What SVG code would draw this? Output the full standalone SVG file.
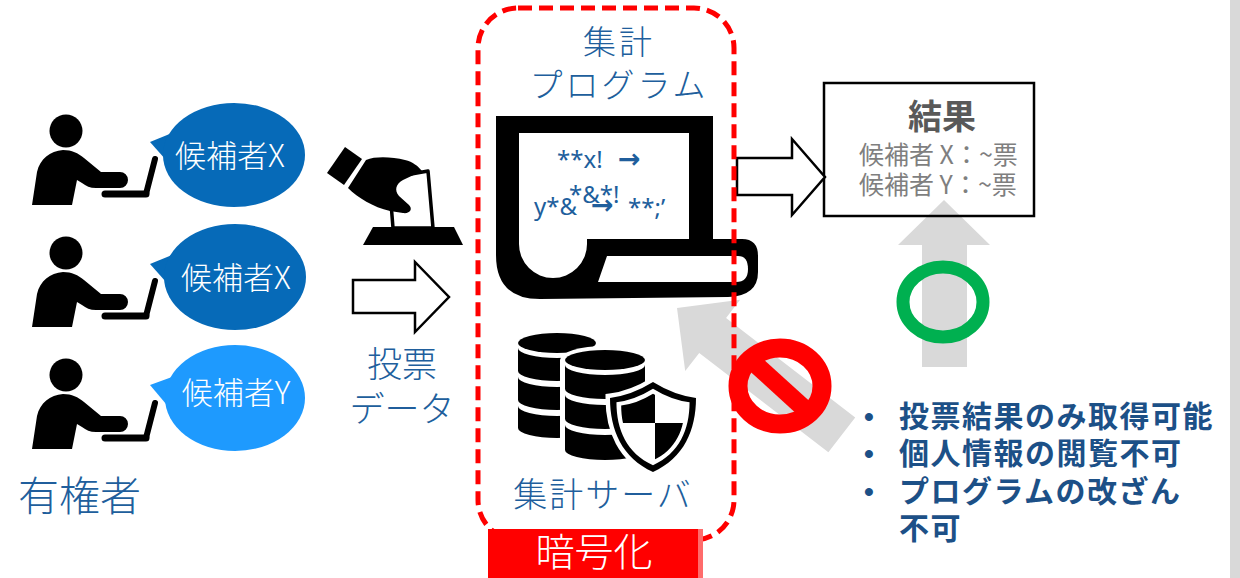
<svg xmlns="http://www.w3.org/2000/svg" xmlns:xlink="http://www.w3.org/1999/xlink" width="1240" height="578" viewBox="0 0 1240 578">
  <defs>
    <style>
      .jp { font-family: "Noto Sans CJK JP", "Noto Sans", sans-serif; }
      .lbl { fill: #205E9C; font-weight: 300; }
      .bubble-text { fill: #FFFFFF; font-size: 31px; font-weight: 300; text-anchor: middle; }
      .code { font-family: "Noto Sans", "DejaVu Sans", sans-serif; fill: #205E9C; font-size: 24px; }
      .code-arrow { font-family: "DejaVu Sans", sans-serif; fill: #205E9C; font-size: 27px; font-weight: bold; }
      .hollow { fill: #FFFFFF; stroke: #000000; stroke-width: 2.5; stroke-linejoin: miter; }
      .gray-arrow { fill: #D9D9D9; }
      .result-line { fill: #7F7F7F; font-size: 25px; }
      .bullet { fill: #1C5087; font-size: 30px; font-weight: bold; letter-spacing: 1.5px; }
      .dot { font-family: "Liberation Sans", sans-serif; fill: #1C5087; font-size: 28px; font-weight: bold; }
    </style>
    <!-- person at a laptop, head centred at (66,131) -->
    <g id="person">
      <circle cx="66" cy="131" r="16.5" fill="#000"/>
      <path d="M32,205 L37,172 C40,159 50,151 63,150 C72,150 78,153 84,158 L101,172 L120,172 A8,8 0 0 1 120,188 L96,188 C90,188 86,186 82,183 L77,180 L72,205 Z" fill="#000"/>
      <line x1="105" y1="194" x2="146" y2="194" stroke="#000" stroke-width="7" stroke-linecap="round"/>
      <line x1="146" y1="194" x2="155" y2="159" stroke="#000" stroke-width="6" stroke-linecap="round"/>
    </g>
    <path id="shield" d="M0,-45 Q21,-32 43,-29 C43,3 31,31 0,45 C-31,31 -43,3 -43,-29 Q-21,-32 0,-45 Z"/>
    <clipPath id="shield-core">
      <use xlink:href="#shield" transform="translate(653,427) scale(0.74)"/>
    </clipPath>
  </defs>

  <rect width="1240" height="578" fill="#FFFFFF"/>
  <rect x="1230" y="0" width="10" height="578" fill="#D9D9D9"/>

  <!-- voters -->
  <g id="voter-1">
    <use xlink:href="#person"/>
    <path d="M150,142 L172,133 L166,160 Z" fill="#066AB8"/>
    <ellipse cx="234" cy="155" rx="71" ry="52" fill="#066AB8"/>
    <text class="jp bubble-text" x="230" y="167">候補者X</text>
  </g>
  <g id="voter-2">
    <use xlink:href="#person" transform="translate(0,122)"/>
    <path d="M150,264 L172,255 L166,282 Z" fill="#066AB8"/>
    <ellipse cx="235" cy="277" rx="71" ry="53" fill="#066AB8"/>
    <text class="jp bubble-text" x="236" y="289">候補者X</text>
  </g>
  <g id="voter-3">
    <use xlink:href="#person" transform="translate(0,244)"/>
    <path d="M150,385 L172,377 L166,404 Z" fill="#1E9AFE"/>
    <ellipse cx="235" cy="398" rx="70" ry="53" fill="#1E9AFE"/>
    <text class="jp bubble-text" x="236" y="404">候補者Y</text>
  </g>
  <g id="voters-label">
    <text class="jp lbl" x="18" y="511" font-size="41">有権者</text>
  </g>

  <!-- ballot being cast -->
  <g id="ballot">
    <polygon points="327,173 345,147 362,159 344,185" fill="#000"/>
    <polygon points="389,178 428,171 433,228 393,228" fill="#FFF" stroke="#000" stroke-width="3.5" stroke-linejoin="round"/>
    <path d="M366,160 C376,156 392,157 405,160 C413,162 418,166 422,171 L403,180 C396,184 394,190 399,196 L409,205 C413,209 410,214 403,213 L390,211 C373,207 358,198 348,188 Z" fill="#000"/>
    <polygon points="373,227 454,227 463,245 363,245" fill="#000"/>
  </g>

  <!-- tally program -->
  <g id="program">
    <text class="jp lbl" x="619" y="54" font-size="33" letter-spacing="3" text-anchor="middle">集計</text>
    <text class="jp lbl" x="619" y="97" font-size="33" letter-spacing="3" text-anchor="middle">プログラム</text>
    <path d="M496,116 H713 V239 H742 Q758,239 758,256 V272 Q758,296 728,297 L540,299 Q496,299 496,255 Z" fill="#000"/>
    <path d="M519,133 H689 V239 H587 V244 A34,34 0 0 1 519,244 Z" fill="#FFF"/>
    <path d="M607,256 H738 Q748,256 748,269 Q748,282 736,282 H598 Z" fill="#FFF"/>
    <text class="code" x="557" y="168">**x!</text>
    <text class="code-arrow" x="618" y="168">→</text>
    <text class="code" x="534" y="215">y*&amp;</text>
    <text class="code" x="569" y="203">*&amp;*!</text>
    <text class="code-arrow" x="591" y="214">→</text>
    <text class="code" x="628" y="216">**;’</text>
  </g>

  <!-- tally server -->
  <g id="server">
    <ellipse cx="557" cy="343" rx="39" ry="10" fill="#000"/>
    <path d="M518,348 A39,10 0 0 0 596,348 V371 A39,10 0 0 1 518,371 Z" fill="#000"/>
    <path d="M518,377 A39,10 0 0 0 596,377 V400 A39,10 0 0 1 518,400 Z" fill="#000"/>
    <path d="M518,406 A39,10 0 0 0 596,406 V428 A39,10 0 0 1 518,428 Z" fill="#000"/>
    <path d="M560,360 A45,14 0 0 1 650,360 V450 A45,14 0 0 1 560,450 Z" fill="#FFF"/>
    <ellipse cx="605" cy="360" rx="40" ry="10" fill="#000"/>
    <path d="M565,365 A40,10 0 0 0 645,365 V389 A40,10 0 0 1 565,389 Z" fill="#000"/>
    <path d="M565,395 A40,10 0 0 0 645,395 V419 A40,10 0 0 1 565,419 Z" fill="#000"/>
    <path d="M565,425 A40,10 0 0 0 645,425 V450 A40,10 0 0 1 565,450 Z" fill="#000"/>
    <use xlink:href="#shield" transform="translate(653,427)" fill="#FFF" stroke="#FFF" stroke-width="9"/>
    <use xlink:href="#shield" transform="translate(653,427)" fill="#000"/>
    <use xlink:href="#shield" transform="translate(653,427) scale(0.85)" fill="#FFF"/>
    <g clip-path="url(#shield-core)" fill="#000">
      <rect x="600" y="370" width="55" height="53"/>
      <rect x="655" y="423" width="50" height="55"/>
    </g>
    <text class="jp lbl" x="603" y="507" font-size="34" letter-spacing="2" text-anchor="middle">集計サーバ</text>
  </g>

  <!-- result -->
  <g id="result">
    <rect x="824" y="83" width="210" height="133" fill="#FFF"/>
    <polygon class="gray-arrow" points="944,200 990,245 967,245 967,367 922,367 922,245 898,245"/>
    <rect x="824" y="83" width="210" height="133" fill="none" stroke="#000" stroke-width="2.5"/>
    <text class="jp" x="942" y="129" font-size="34" font-weight="bold" fill="#595959" text-anchor="middle">結果</text>
    <text class="jp result-line" x="859" y="164">候補者 X：~票</text>
    <text class="jp result-line" x="859" y="194">候補者 Y：~票</text>
    <ellipse cx="943" cy="302" rx="40" ry="35" fill="none" stroke="#00B050" stroke-width="13"/>
  </g>

  <!-- connectors -->
  <g id="connectors">
    <polygon class="hollow" points="353,280 415,280 415,262 449,297 415,332 415,313 353,313"/>
    <polygon class="hollow" points="737,158 792,158 792,139 825,177 792,215 792,195 737,195"/>
    <polygon class="gray-arrow" transform="translate(677,308) rotate(37.6)" points="0,0 45,-45 45,-22 208,-22 208,22 45,22 45,45"/>
  </g>

  <g id="vote-data-label">
    <text class="jp lbl" x="402" y="377" font-size="35" text-anchor="middle">投票</text>
    <text class="jp lbl" x="402" y="422" font-size="35" text-anchor="middle">データ</text>
  </g>

  <!-- no-access sign -->
  <g id="prohibited">
    <ellipse cx="780" cy="386" rx="42" ry="38" fill="none" stroke="#FF0000" stroke-width="19"/>
    <line x1="752" y1="361" x2="808" y2="412" stroke="#FF0000" stroke-width="18"/>
  </g>

  <!-- encrypted zone -->
  <g id="encrypted-zone">
    <rect x="478" y="8" width="256" height="532" rx="40" ry="40" fill="none" stroke="#FF0000" stroke-width="5" stroke-dasharray="14 7"/>
    <rect x="488" y="529" width="215" height="49" fill="#FF0000"/>
    <rect x="698" y="529" width="5" height="49" fill="#FF6B6B"/>
    <text class="jp" x="594" y="566" font-size="39" font-weight="300" fill="#FFFFFF" text-anchor="middle">暗号化</text>
  </g>

  <!-- properties -->
  <g id="properties">
    <text class="dot" x="864" y="426">•</text>
    <text class="jp bullet" x="899" y="427">投票結果のみ取得可能</text>
    <text class="dot" x="864" y="463">•</text>
    <text class="jp bullet" x="899" y="464">個人情報の閲覧不可</text>
    <text class="dot" x="864" y="501">•</text>
    <text class="jp bullet" x="899" y="502">プログラムの改ざん</text>
    <text class="jp bullet" x="899" y="539">不可</text>
  </g>
</svg>
